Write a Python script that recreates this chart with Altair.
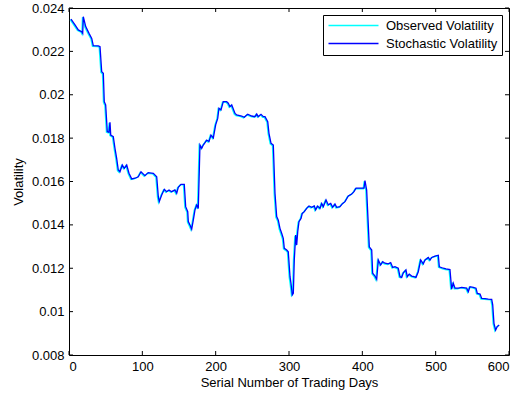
import altair as alt
import pandas as pd

days = [2.7, 8.2, 12.7, 17.3, 18.7, 19.5, 22.8, 27.3, 31.0, 33.1, 40.0, 42.3, 44.6, 46.8, 48.1, 50.0,
        52.2, 54.5, 55.9, 56.9, 60.4, 62.7, 65.0, 67.2, 69.5, 72.7, 75.4, 78.7, 81.8, 85.5, 90.0, 94.5,
        98.2, 103.6, 108.1, 115.0, 119.6, 121.8, 123.1, 126.4, 130.0, 133.2, 136.4, 140.0, 144.5, 146.9,
        149.0, 152.7, 157.2, 159.1, 161.9, 162.7, 165.0, 167.3, 169.5, 171.8, 174.1, 176.3, 178.6, 181.0,
        183.1, 185.5, 187.8, 190.9, 193.6, 196.8, 200.0, 202.8, 204.5, 207.3, 210.4, 215.0, 217.2, 219.5,
        221.9, 226.4, 228.7, 235.5, 239.0, 243.7, 249.1, 253.6, 256.0, 258.1, 261.8, 265.0, 267.3, 271.0,
        272.7, 275.5, 278.6, 280.9, 283.2, 285.4, 287.7, 290.0, 292.2, 293.6, 296.9, 299.0, 301.4, 302.7,
        304.5, 305.9, 307.2, 309.1, 310.5, 311.9, 313.6, 316.4, 318.1, 320.9, 324.1, 327.3, 331.0, 334.5,
        336.4, 339.1, 342.3, 344.6, 346.8, 350.5, 353.6, 356.9, 359.6, 362.7, 365.0, 369.5, 373.2, 376.4,
        380.9, 385.5, 388.6, 391.4, 396.8, 402.3, 403.6, 405.9, 409.5, 412.8, 414.1, 417.3, 419.6, 421.8,
        425.0, 427.8, 430.9, 435.4, 438.7, 441.4, 444.5, 449.0, 451.4, 453.7, 455.9, 459.5, 461.3, 464.0,
        467.3, 470.5, 473.2, 476.3, 479.6, 483.1, 485.5, 490.0, 492.3, 494.6, 499.1, 503.6, 505.0, 510.4,
        514.1, 519.5, 521.8, 524.0, 526.4, 530.9, 535.5, 542.3, 544.5, 546.8, 551.3, 555.0, 556.8, 560.5,
        562.8, 567.3, 571.8, 576.4, 577.8, 579.5, 581.8, 584.0, 586.7]

observed = [0.02349, 0.02322, 0.02299, 0.02291, 0.02283, 0.02360, 0.02314, 0.02283, 0.02260, 0.02226,
            0.02225, 0.02222, 0.02106, 0.02099, 0.01968, 0.01953, 0.01830, 0.01827, 0.01873, 0.01814,
            0.01807, 0.01753, 0.01707, 0.01653, 0.01645, 0.01676, 0.01661, 0.01676, 0.01638, 0.01612,
            0.01615, 0.01622, 0.01645, 0.01627, 0.01641, 0.01638, 0.01622, 0.01530, 0.01507, 0.01538,
            0.01564, 0.01553, 0.01561, 0.01553, 0.01561, 0.01546, 0.01573, 0.01587, 0.01587, 0.01484,
            0.01461, 0.01415, 0.01399, 0.01380, 0.01422, 0.01469, 0.01492, 0.01476, 0.01768, 0.01753,
            0.01768, 0.01779, 0.01791, 0.01784, 0.01814, 0.01801, 0.01861, 0.01891, 0.01938, 0.01930,
            0.01968, 0.01968, 0.01961, 0.01945, 0.01953, 0.01914, 0.01907, 0.01902, 0.01896, 0.01910,
            0.01902, 0.01899, 0.01911, 0.01899, 0.01910, 0.01899, 0.01899, 0.01876, 0.01822, 0.01776,
            0.01768, 0.01546, 0.01438, 0.01422, 0.01384, 0.01361, 0.01338, 0.01292, 0.01284, 0.01276,
            0.01161, 0.01131, 0.01077, 0.01084, 0.01238, 0.01353, 0.01307, 0.01369, 0.01415, 0.01430,
            0.01453, 0.01461, 0.01476, 0.01487, 0.01481, 0.01487, 0.01469, 0.01487, 0.01476, 0.01499,
            0.01484, 0.01515, 0.01492, 0.01499, 0.01481, 0.01496, 0.01481, 0.01484, 0.01499, 0.01507,
            0.01533, 0.01542, 0.01553, 0.01569, 0.01569, 0.01569, 0.01604, 0.01561, 0.01299, 0.01284,
            0.01177, 0.01164, 0.01149, 0.01238, 0.01215, 0.01230, 0.01223, 0.01220, 0.01226, 0.01204,
            0.01207, 0.01200, 0.01161, 0.01158, 0.01179, 0.01192, 0.01161, 0.01173, 0.01164, 0.01161,
            0.01158, 0.01184, 0.01238, 0.01220, 0.01238, 0.01250, 0.01238, 0.01250, 0.01256, 0.01260,
            0.01207, 0.01200, 0.01197, 0.01194, 0.01104, 0.01131, 0.01108, 0.01108, 0.01112, 0.01108,
            0.01092, 0.01115, 0.01112, 0.01108, 0.01084, 0.01081, 0.01061, 0.01060, 0.01058, 0.01057,
            0.01031, 0.00946, 0.00915, 0.00931, 0.00938]

stochastic = [0.02349, 0.02322, 0.02299, 0.02291, 0.02283, 0.02360, 0.02314, 0.02283, 0.02260, 0.02226,
              0.02225, 0.02222, 0.02106, 0.02099, 0.01968, 0.01953, 0.01830, 0.01827, 0.01873, 0.01814,
              0.01807, 0.01753, 0.01707, 0.01653, 0.01645, 0.01676, 0.01661, 0.01676, 0.01638, 0.01612,
              0.01615, 0.01622, 0.01645, 0.01627, 0.01641, 0.01638, 0.01622, 0.01530, 0.01507, 0.01538,
              0.01564, 0.01553, 0.01561, 0.01553, 0.01561, 0.01546, 0.01573, 0.01587, 0.01587, 0.01484,
              0.01461, 0.01415, 0.01399, 0.01380, 0.01422, 0.01469, 0.01492, 0.01476, 0.01768, 0.01753,
              0.01768, 0.01779, 0.01791, 0.01784, 0.01814, 0.01801, 0.01861, 0.01891, 0.01938, 0.01930,
              0.01968, 0.01968, 0.01961, 0.01945, 0.01953, 0.01914, 0.01907, 0.01902, 0.01896, 0.01910,
              0.01902, 0.01899, 0.01911, 0.01899, 0.01910, 0.01899, 0.01899, 0.01876, 0.01822, 0.01776,
              0.01768, 0.01546, 0.01438, 0.01422, 0.01384, 0.01361, 0.01338, 0.01292, 0.01284, 0.01276,
              0.01161, 0.01131, 0.01077, 0.01084, 0.01238, 0.01353, 0.01307, 0.01369, 0.01415, 0.01430,
              0.01453, 0.01461, 0.01476, 0.01487, 0.01481, 0.01487, 0.01469, 0.01487, 0.01476, 0.01499,
              0.01484, 0.01515, 0.01492, 0.01499, 0.01481, 0.01496, 0.01481, 0.01484, 0.01499, 0.01507,
              0.01533, 0.01542, 0.01553, 0.01569, 0.01569, 0.01569, 0.01604, 0.01561, 0.01299, 0.01284,
              0.01177, 0.01164, 0.01149, 0.01238, 0.01215, 0.01230, 0.01223, 0.01220, 0.01226, 0.01204,
              0.01207, 0.01200, 0.01161, 0.01158, 0.01179, 0.01192, 0.01161, 0.01173, 0.01164, 0.01161,
              0.01158, 0.01184, 0.01238, 0.01220, 0.01238, 0.01250, 0.01238, 0.01250, 0.01256, 0.01260,
              0.01207, 0.01200, 0.01197, 0.01194, 0.01104, 0.01131, 0.01108, 0.01108, 0.01112, 0.01108,
              0.01092, 0.01115, 0.01112, 0.01108, 0.01084, 0.01081, 0.01061, 0.01060, 0.01058, 0.01057,
              0.01031, 0.00946, 0.00915, 0.00931, 0.00938]

series_names = ["Observed Volatility", "Stochastic Volatility"]
series_colors = ["#00FFFF", "#0000FF"]
x_ticks = [0, 100, 200, 300, 400, 500, 600]
y_ticks = [0.008, 0.010, 0.012, 0.014, 0.016, 0.018, 0.020, 0.022, 0.024]

FONT = "Liberation Sans"
W, H = 440, 347

df = pd.concat([
    pd.DataFrame({"day": days, "vol": observed, "series": series_names[0]}),
    pd.DataFrame({"day": days, "vol": stochastic, "series": series_names[1]}),
])

xscale = alt.Scale(domain=[0, 600], nice=False, zero=False)
yscale = alt.Scale(domain=[0.008, 0.024], nice=False, zero=False)

x_axis = alt.Axis(values=x_ticks, title="Serial Number of Trading Days", labelPadding=5, titlePadding=3)
y_axis = alt.Axis(values=y_ticks, format=".3~f", title="Volatility", labelPadding=5, titlePadding=6)

color = alt.Color(
    "series:N",
    scale=alt.Scale(domain=series_names, range=series_colors),
    legend=alt.Legend(
        title=None, orient="none", legendX=254, legendY=7,
        symbolType="M-1,0H9", symbolSize=100, symbolStrokeWidth=1.6,
        symbolOpacity=1,
        labelFont=FONT, labelFontSize=13, labelColor="black", labelOffset=46,
        strokeColor="black", fillColor="white", padding=4, rowPadding=4,
        labelLimit=300,
    ),
)

base = alt.Chart(df).encode(
    x=alt.X("day:Q", scale=xscale, axis=x_axis),
    y=alt.Y("vol:Q", scale=yscale, axis=y_axis),
    color=color,
)

obs_line = base.transform_filter(alt.datum.series == series_names[0]).mark_line(
    strokeWidth=1.4, xOffset=-0.8, yOffset=0.6)
sto_line = base.transform_filter(alt.datum.series == series_names[1]).mark_line(strokeWidth=1.3)

xt = pd.DataFrame({"day": x_ticks})
yt = pd.DataFrame({"vol": y_ticks})
TL = 4
ticks_bottom = alt.Chart(xt).mark_rule(color="black", strokeWidth=1).encode(
    x=alt.X("day:Q", scale=xscale, axis=x_axis), y=alt.value(H), y2=alt.value(H - TL))
ticks_top = alt.Chart(xt).mark_rule(color="black", strokeWidth=1).encode(
    x=alt.X("day:Q", scale=xscale, axis=x_axis), y=alt.value(0), y2=alt.value(TL))
ticks_left = alt.Chart(yt).mark_rule(color="black", strokeWidth=1).encode(
    y=alt.Y("vol:Q", scale=yscale, axis=y_axis), x=alt.value(0), x2=alt.value(TL))
ticks_right = alt.Chart(yt).mark_rule(color="black", strokeWidth=1).encode(
    y=alt.Y("vol:Q", scale=yscale, axis=y_axis), x=alt.value(W), x2=alt.value(W - TL))

chart = alt.layer(obs_line, sto_line, ticks_bottom, ticks_top, ticks_left, ticks_right).properties(
    width=W, height=H,
    autosize=alt.AutoSizeParams(type="none"),
    padding={"left": 69, "top": 8, "right": 14, "bottom": 44},
    background="white",
).configure_view(stroke="black", strokeWidth=1).configure_axis(
    grid=False, domain=False, ticks=False,
    labelFont=FONT, labelFontSize=13, labelColor="black",
    titleFont=FONT, titleFontSize=13, titleFontWeight="normal", titleColor="black",
)

chart.save("out.html", embed_options={"renderer": "svg", "actions": False})
